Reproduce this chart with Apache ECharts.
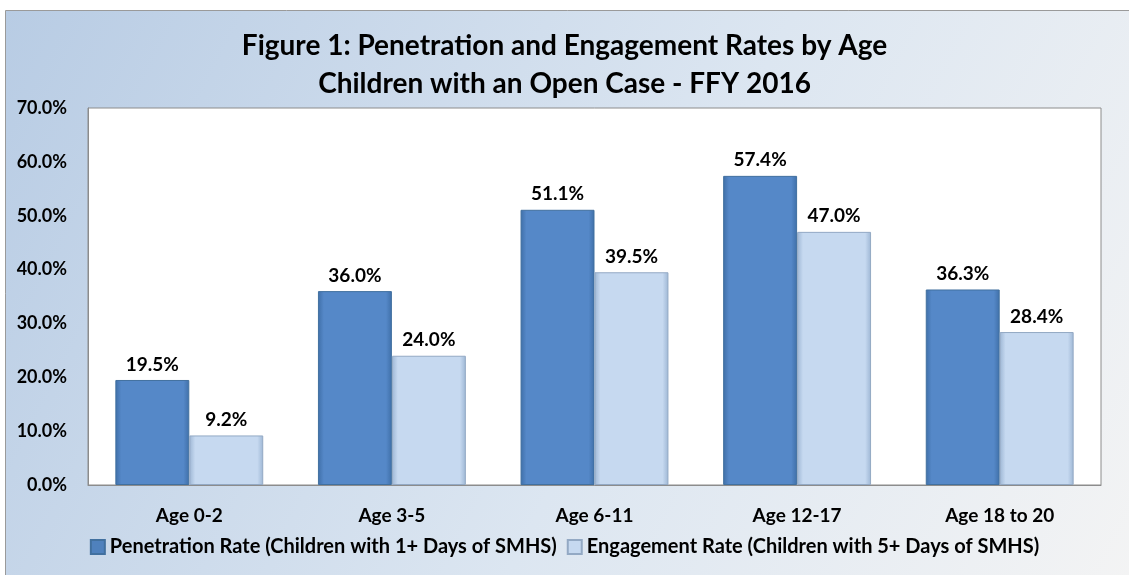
<!DOCTYPE html>
<html><head><meta charset="utf-8">
<script src="https://cdn.jsdelivr.net/npm/echarts@6/dist/echarts.min.js"></script>
<style>html,body{margin:0;padding:0;background:#fff}#c{width:1129px;height:575px}</style>
</head><body><div id="c"></div>
<script>
const categories = ['Age 0-2', 'Age 3-5', 'Age 6-11', 'Age 12-17', 'Age 18 to 20'];
const penetration = [19.5, 36.0, 51.1, 57.4, 36.3];
const engagement = [9.2, 24.0, 39.5, 47.0, 28.4];
const seriesNames = ['Penetration Rate (Children with 1+ Days of SMHS)', 'Engagement Rate (Children with 5+ Days of SMHS)'];
const titleLines = ['Figure 1: Penetration and Engagement Rates by Age', 'Children with an Open Case - FFY 2016'];

const FONT = 'Lato, "Open Sans", sans-serif';
const chart = echarts.init(document.getElementById('c'));
function barGrad(edge, mid) {
  return new echarts.graphic.LinearGradient(0, 0, 1, 0, [
    {offset: 0, color: edge}, {offset: 0.08, color: mid}, {offset: 0.92, color: mid}, {offset: 1, color: edge}
  ]);
}
const labelStyle = {show: true, position: 'top', distance: 6, fontFamily: FONT, fontWeight: 'bold', fontSize: 19, color: '#000',
  formatter: p => p.value.toFixed(1) + '%'};
chart.setOption({
  animation: false,
  graphic: [{
    type: 'rect', left: 5, top: 10, z: -10,
    shape: {width: 1140, height: 580},
    style: {
      fill: new echarts.graphic.LinearGradient(0, 0, 1, 1, [
        {offset: 0, color: '#B8CCE4'}, {offset: 0.55, color: '#DCE6F1'}, {offset: 1, color: '#F4F4F4'}
      ]),
      stroke: '#9A9A9A', lineWidth: 1
    }
  }],
  title: {
    text: titleLines.join('\n'), left: 'center', top: 22,
    textStyle: {fontFamily: FONT, fontWeight: 'bold', fontSize: 28, lineHeight: 38, color: '#000'}
  },
  legend: {
    bottom: 13, left: 'center', itemWidth: 14, itemHeight: 14, itemGap: 10,
    textStyle: {fontFamily: FONT, fontWeight: 'bold', fontSize: 20, color: '#000'},
    data: [
      {name: seriesNames[0], icon: 'rect', itemStyle: {color: '#4F81BD'}},
      {name: seriesNames[1], icon: 'rect', itemStyle: {color: '#C6D9F0'}}
    ]
  },
  grid: {left: 88, right: 28, top: 108, bottom: 90, show: true, backgroundColor: '#fff', borderColor: '#8C8C8C', borderWidth: 1},
  xAxis: {
    type: 'category', data: categories,
    axisLine: {lineStyle: {color: '#8C8C8C'}}, axisTick: {show: false},
    axisLabel: {margin: 21, fontFamily: FONT, fontWeight: 'bold', fontSize: 19, color: '#000'}
  },
  yAxis: {
    type: 'value', min: 0, max: 70, interval: 10,
    splitLine: {show: false}, axisLine: {show: true, lineStyle: {color: '#8C8C8C'}}, axisTick: {show: false},
    axisLabel: {margin: 21, fontFamily: FONT, fontWeight: 'bold', fontSize: 18, color: '#000', formatter: v => v.toFixed(1) + '%'}
  },
  series: [
    {name: seriesNames[0], type: 'bar', data: penetration, barGap: '0%', barCategoryGap: '27%',
      itemStyle: {color: barGrad('#3F6FA8', '#5588C8'), borderColor: '#41709F', borderWidth: 1},
      label: labelStyle},
    {name: seriesNames[1], type: 'bar', data: engagement,
      itemStyle: {color: barGrad('#9DB6D4', '#C6D9F0'), borderColor: '#93A9C4', borderWidth: 1},
      label: labelStyle}
  ]
});
</script></body></html>
